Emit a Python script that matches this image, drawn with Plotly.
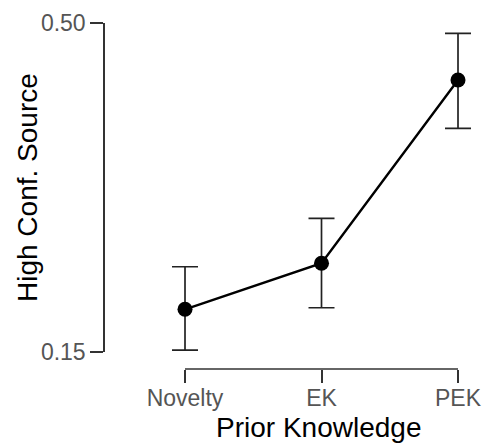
import plotly.graph_objects as go

categories = ["Novelty", "EK", "PEK"]
means = [0.1954, 0.2444, 0.4394]
upper = [0.2407, 0.2922, 0.4890]
lower = [0.1521, 0.1971, 0.3880]
y_ticks = [0.15, 0.50]
y_ticktext = ["0.15", "0.50"]
x_title = "Prior Knowledge"
y_title = "High Conf. Source"

err_plus = [u - m for u, m in zip(upper, means)]
err_minus = [m - l for m, l in zip(means, lower)]

W, H = 484, 444
PAD = 0.15  # extra x range so error-bar caps are not clipped


def px(x):  # screen x -> paper fraction
    return x / W


def py(y):  # screen y -> paper fraction
    return (H - y) / H


n = len(categories)
x_left, x_right = 185, 458
unit = (x_right - x_left) / (n - 1)

fig = go.Figure()
fig.add_trace(go.Scatter(
    x=list(range(n)), y=means,
    mode="lines+markers",
    line=dict(color="black", width=2.4),
    marker=dict(color="black", size=15),
    error_y=dict(type="data", symmetric=False, array=err_plus, arrayminus=err_minus,
                 color="#222222", thickness=1.7, width=13),
    cliponaxis=False,
    showlegend=False,
))

fig.update_layout(
    width=W, height=H,
    margin=dict(l=0, r=0, t=0, b=0),
    plot_bgcolor="white", paper_bgcolor="white",
    font=dict(family="Liberation Sans, Arial, sans-serif"),
    xaxis=dict(
        domain=[px(x_left - PAD * unit), px(x_right + PAD * unit)],
        range=[-PAD, n - 1 + PAD],
        anchor="free", position=py(369),
        automargin=False,
        tickvals=list(range(n)), ticktext=categories,
        ticks="outside", ticklen=13, tickwidth=1.5, tickcolor="#333333",
        ticklabelstandoff=-5,
        showline=False,
        showgrid=False, zeroline=False,
        tickfont=dict(size=23, color="#555555"),
    ),
    yaxis=dict(
        domain=[py(352), py(23)],
        range=[0.15, 0.50],
        anchor="free", position=px(104),
        automargin=False,
        tickvals=y_ticks, ticktext=y_ticktext,
        ticks="outside", ticklen=13, tickwidth=1.5, tickcolor="#333333",
        showline=True, linecolor="#333333", linewidth=1.5,
        showgrid=False, zeroline=False,
        tickfont=dict(size=23, color="#555555"),
    ),
    shapes=[
        dict(type="line", xref="x", yref="paper", x0=0, x1=n - 1,
             y0=py(369), y1=py(369), line=dict(color="#333333", width=1.5)),
    ],
    annotations=[
        dict(text=x_title, xref="paper", yref="paper", x=px(318), y=py(427),
             xanchor="center", yanchor="middle", showarrow=False,
             font=dict(size=28, color="black")),
        dict(text=y_title, xref="paper", yref="paper", x=px(27), y=py(188),
             xanchor="center", yanchor="middle", showarrow=False, textangle=-90,
             font=dict(size=28, color="black")),
    ],
)

fig.write_html(
    "out.html",
    config={"displayModeBar": False},
    post_script="document.body.style.margin='0';document.body.style.overflow='hidden';",
)
